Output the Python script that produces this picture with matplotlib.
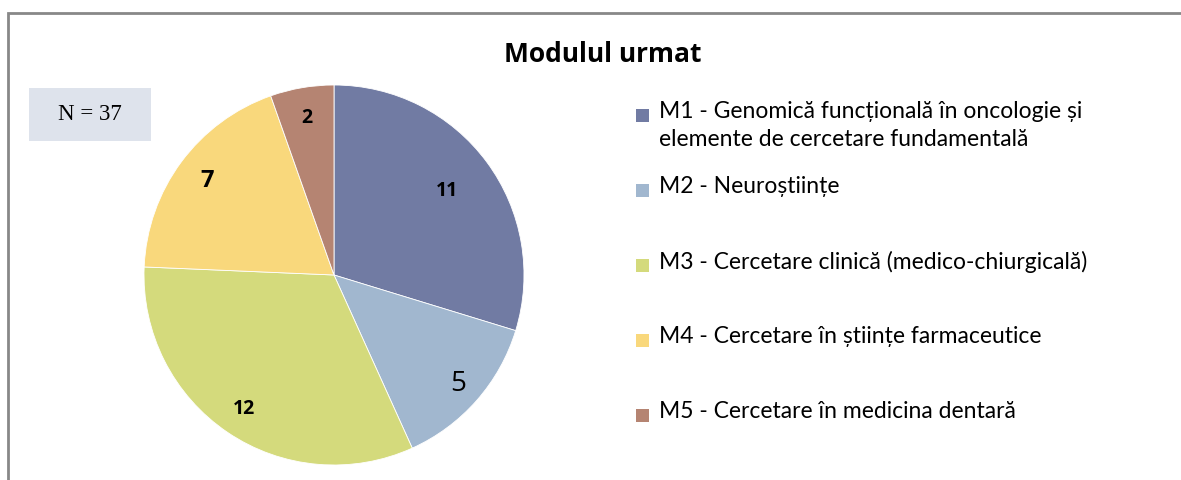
import matplotlib.pyplot as plt
import numpy as np
from matplotlib.patches import Rectangle

# Data
labels = [
    "M1 - Genomică funcțională în oncologie și\nelemente de cercetare fundamentală",
    "M2 - Neuroștiințe",
    "M3 - Cercetare clinică (medico-chiurgicală)",
    "M4 - Cercetare în științe farmaceutice",
    "M5 - Cercetare în medicina dentară",
]
values = [11, 5, 12, 7, 2]
colors = ["#717BA3", "#A1B7CF", "#D4DA7C", "#F9D87C", "#B58472"]

# per-slice label styling (as in the original)
label_r = [0.74, 0.87, 0.85, 0.83, 0.84]
label_size = [14, 20, 14, 17, 14]
label_weight = ["bold", "normal", "bold", "bold", "bold"]

W, H = 1181, 480
fig = plt.figure(figsize=(W / 100, H / 100), dpi=100)

# outer frame (only left and top edges visible)
fig.add_artist(Rectangle((8 / W, -0.2), 1.5, (H - 13) / H + 0.2,
                         transform=fig.transFigure, fill=False,
                         edgecolor="#888888", linewidth=2))

# pie
cx, cy, r = 334, 275, 190
ax = fig.add_axes([(cx - r) / W, (H - cy - r) / H, 2 * r / W, 2 * r / H])
wedges, _ = ax.pie(values, colors=colors, startangle=90, counterclock=False,
                   wedgeprops=dict(edgecolor="white", linewidth=0.6))
ax.set_xlim(-1, 1)
ax.set_ylim(-1, 1)
ax.set_aspect("equal")

for w, v, rr, fs, fw in zip(wedges, values, label_r, label_size, label_weight):
    ang = np.deg2rad((w.theta1 + w.theta2) / 2)
    ax.text(rr * np.cos(ang), rr * np.sin(ang), str(v), ha="center",
            va="center", fontsize=fs, fontweight=fw, family="Open Sans")

# title
fig.text(603 / W, 1 - 55 / H, "Modulul urmat", ha="center", va="center",
         fontsize=19, fontweight="bold", family="Open Sans")

# N box
fig.add_artist(Rectangle((29 / W, 1 - 141 / H), 122 / W, 53 / H,
                         transform=fig.transFigure, facecolor="#DEE3EC",
                         edgecolor="none"))
fig.text(90 / W, 1 - 115 / H, "N = 37", ha="center", va="center",
         fontsize=16.5, family="Liberation Serif")

# legend (markers aligned with the first line of each entry)
y0, step = 115, 75
for i, (lab, col) in enumerate(zip(labels, colors)):
    y = y0 + i * step
    fig.add_artist(Rectangle((636 / W, 1 - (y + 7) / H), 13 / W, 13 / H,
                             transform=fig.transFigure, facecolor=col,
                             edgecolor="none"))
    fig.text(659 / W, 1 - (y - 14) / H, lab, ha="left", va="top",
             fontsize=16.5, family="Lato", linespacing=1.4)

fig.savefig("out.png", dpi=100)
